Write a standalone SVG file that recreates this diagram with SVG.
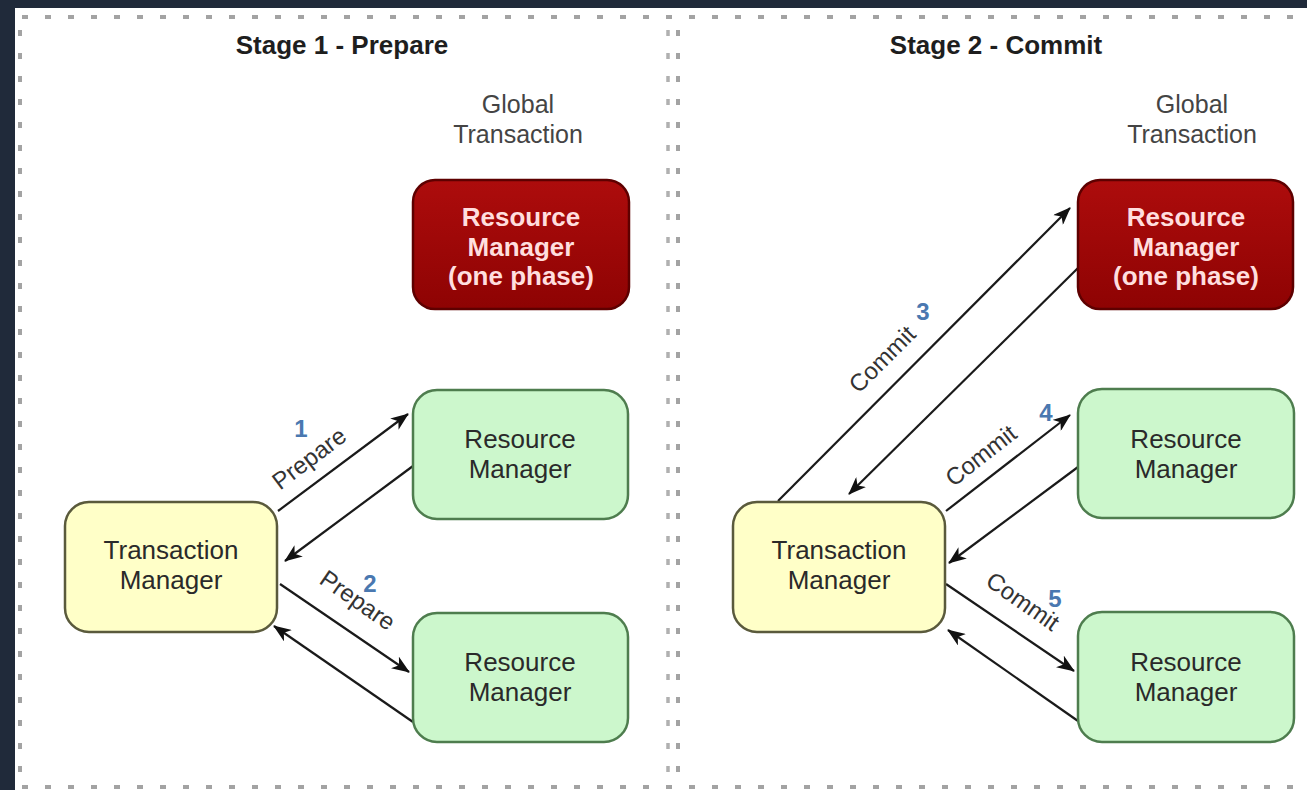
<svg xmlns="http://www.w3.org/2000/svg" width="1307" height="790" viewBox="0 0 1307 790">
<defs>
<marker id="ah" markerUnits="userSpaceOnUse" markerWidth="20" markerHeight="14" refX="17" refY="7" orient="auto">
<path d="M0,0 L18,7 L0,14 L5,7 z" fill="#111"/>
</marker>
<linearGradient id="red" x1="0" y1="0" x2="0" y2="1">
<stop offset="0" stop-color="#ad0c0c"/>
<stop offset="1" stop-color="#8e0303"/>
</linearGradient>
</defs>
<style>
.dash{stroke:#a3a3a3;stroke-width:4;stroke-dasharray:6 17;fill:none}
.green{fill:#ccf7cc;stroke:#4e7d4e;stroke-width:2.5}
.yellow{fill:#ffffc8;stroke:#5a5a3c;stroke-width:2.5}
.red{fill:url(#red);stroke:#5e0000;stroke-width:2.5}
.t{font-family:"Liberation Sans",Arial,sans-serif;font-size:26px;fill:#2a2a2a;text-anchor:middle}
.tw{font-family:"Liberation Sans",Arial,sans-serif;font-size:26px;font-weight:bold;fill:#ffdede;text-anchor:middle}
.title{font-family:"Liberation Sans",Arial,sans-serif;font-size:26px;font-weight:bold;fill:#1e1e1e;text-anchor:middle}
.g{font-family:"Liberation Sans",Arial,sans-serif;font-size:25px;fill:#444;text-anchor:middle}
.lbl{font-family:"Liberation Sans",Arial,sans-serif;font-size:24px;fill:#333;text-anchor:middle}
.num{font-family:"Liberation Sans",Arial,sans-serif;font-size:24px;font-weight:bold;fill:#4a78b0;text-anchor:middle}
.c{stroke:#1a1a1a;stroke-width:2.2;fill:none;marker-end:url(#ah)}
</style>
<rect x="0" y="0" width="1307" height="790" fill="#202a3a"/>
<rect x="15" y="8" width="1292" height="782" fill="#ffffff"/>
<g id="frame">
<line class="dash" x1="22" y1="17" x2="1307" y2="17"/>
<line class="dash" x1="20" y1="30" x2="20" y2="787"/>
<line class="dash" x1="22" y1="787" x2="1307" y2="787"/>
<line class="dash" x1="668" y1="30" x2="668" y2="787" style="stroke:#b0b0b0;stroke-width:3.5"/>
<line class="dash" x1="678" y1="30" x2="678" y2="787"/>
</g>
<g id="titles">
<text class="title" x="342" y="54">Stage 1 - Prepare</text>
<text class="title" x="996" y="54">Stage 2 - Commit</text>
<text class="g" x="518" y="113">Global</text>
<text class="g" x="518" y="143">Transaction</text>
<text class="g" x="1192" y="113">Global</text>
<text class="g" x="1192" y="143">Transaction</text>
</g>
<g id="connectors">
<line class="c" x1="278" y1="511" x2="408" y2="414"/>
<line class="c" x1="413" y1="466" x2="285" y2="561"/>
<line class="c" x1="280" y1="584" x2="409" y2="672"/>
<line class="c" x1="413" y1="722" x2="274" y2="626"/>
<line class="c" x1="778" y1="501" x2="1070" y2="208"/>
<line class="c" x1="1078" y1="268" x2="849" y2="494"/>
<line class="c" x1="946" y1="511" x2="1070" y2="415"/>
<line class="c" x1="1078" y1="467" x2="949" y2="563"/>
<line class="c" x1="946" y1="584" x2="1074" y2="671"/>
<line class="c" x1="1078" y1="721" x2="948" y2="630"/>
<text class="lbl" transform="translate(314,465) rotate(-37)">Prepare</text>
<text class="num" x="301" y="437">1</text>
<text class="lbl" transform="translate(353,607) rotate(35)">Prepare</text>
<text class="num" x="370" y="592">2</text>
<text class="lbl" transform="translate(888,365) rotate(-45)">Commit</text>
<text class="num" x="923" y="320">3</text>
<text class="lbl" transform="translate(986,462) rotate(-38)">Commit</text>
<text class="num" x="1046" y="421">4</text>
<text class="lbl" transform="translate(1018,608) rotate(35)">Commit</text>
<text class="num" x="1055" y="607">5</text>
</g>
<g id="tm1">
<rect class="yellow" x="65" y="502" width="212" height="130" rx="24"/>
<text class="t" x="171" y="559">Transaction</text>
<text class="t" x="171" y="589">Manager</text>
</g>
<g id="rm1-onephase">
<rect class="red" x="413" y="180" width="216" height="129" rx="22"/>
<text class="tw" x="521" y="226">Resource</text>
<text class="tw" x="521" y="256">Manager</text>
<text class="tw" x="521" y="285">(one phase)</text>
</g>
<g id="rm1-a">
<rect class="green" x="413" y="390" width="215" height="129" rx="24"/>
<text class="t" x="520" y="448">Resource</text>
<text class="t" x="520" y="478">Manager</text>
</g>
<g id="rm1-b">
<rect class="green" x="413" y="613" width="215" height="129" rx="24"/>
<text class="t" x="520" y="671">Resource</text>
<text class="t" x="520" y="701">Manager</text>
</g>
<g id="tm2">
<rect class="yellow" x="733" y="502" width="212" height="130" rx="24"/>
<text class="t" x="839" y="559">Transaction</text>
<text class="t" x="839" y="589">Manager</text>
</g>
<g id="rm2-onephase">
<rect class="red" x="1078" y="180" width="215" height="129" rx="22"/>
<text class="tw" x="1186" y="226">Resource</text>
<text class="tw" x="1186" y="256">Manager</text>
<text class="tw" x="1186" y="285">(one phase)</text>
</g>
<g id="rm2-a">
<rect class="green" x="1078" y="389" width="216" height="129" rx="24"/>
<text class="t" x="1186" y="448">Resource</text>
<text class="t" x="1186" y="478">Manager</text>
</g>
<g id="rm2-b">
<rect class="green" x="1078" y="612" width="216" height="130" rx="24"/>
<text class="t" x="1186" y="671">Resource</text>
<text class="t" x="1186" y="701">Manager</text>
</g>
</svg>
